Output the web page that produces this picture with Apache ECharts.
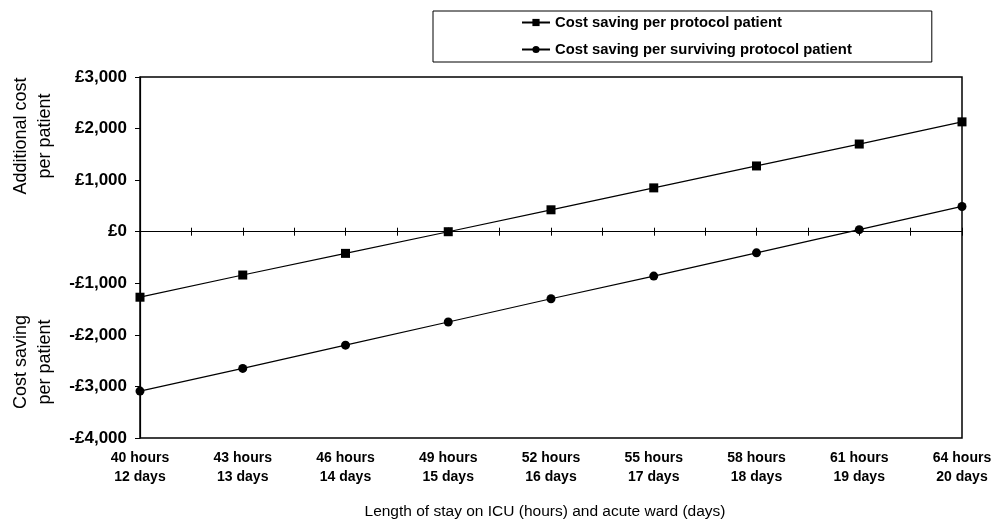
<!DOCTYPE html>
<html>
<head>
<meta charset="utf-8">
<script src="https://cdn.jsdelivr.net/npm/echarts@6/dist/echarts.min.js"></script>
<style>
html,body{margin:0;padding:0;background:#fff;}
#chart{width:1006px;height:521px;}
</style>
</head>
<body>
<div id="chart"></div>
<script>
const categories = ['40 hours\n12 days','43 hours\n13 days','46 hours\n14 days','49 hours\n15 days','52 hours\n16 days','55 hours\n17 days','58 hours\n18 days','61 hours\n19 days','64 hours\n20 days'];
const perProtocol = [-1270, -840, -420, 0, 425, 850, 1275, 1700, 2130];
const perSurviving = [-3090, -2650, -2200, -1750, -1300, -860, -410, 40, 490];
const seriesNames = ['Cost saving per protocol patient', 'Cost saving per surviving protocol patient'];
const yMin = -4000, yMax = 3000, yStep = 1000;
const xTitle = 'Length of stay on ICU (hours) and acute ward (days)';
const yTitleTop = 'Additional cost\nper patient';
const yTitleBottom = 'Cost saving\nper patient';

const FONT = 'Arial, "Liberation Sans", sans-serif';
function fmt(v){
  const s = Math.abs(v).toLocaleString('en-GB');
  return (v < 0 ? '-£' : '£') + s;
}

const chart = echarts.init(document.getElementById('chart'), null, {renderer:'canvas'});
const gridLeft = 140, gridRight = 1006-962, gridTop = 77, gridBottom = 521-438;
chart.setOption({
  animation: false,
  backgroundColor: '#fff',
  grid: {left: gridLeft, right: gridRight, top: gridTop, bottom: gridBottom, show: true,
         borderColor: '#000', borderWidth: 1.5, backgroundColor: 'transparent', outerBoundsMode: 'none', containLabel: false},
  legend: {
    orient: 'vertical', left: 433, top: 11,
    padding: [4, 80, 5, 88],
    itemGap: 12, itemWidth: 28, itemHeight: 9,
    borderColor: '#000', borderWidth: 1,
    textStyle: {fontFamily: FONT, fontWeight: 'bold', fontSize: 14.8, color: '#000'},
    data: seriesNames
  },
  xAxis: [
    {type: 'category', data: categories, boundaryGap: false, position: 'bottom',
     axisLine: {show: false, onZero: false}, axisTick: {show: false}, splitLine: {show: false},
     axisLabel: {fontFamily: FONT, fontWeight: 'bold', fontSize: 14, color: '#000', lineHeight: 19, margin: 11, interval: 0}},
    {type: 'value', min: 0, max: categories.length - 1, interval: 0.5, position: 'bottom',
     axisLine: {show: true, onZero: true, onZeroAxisIndex: 0, lineStyle: {color: '#000', width: 1.2}},
     axisTick: {show: true, length: 4, lineStyle: {color: '#000', width: 1}},
     axisLabel: {show: false}, splitLine: {show: false}},
    {type: 'value', min: 0, max: categories.length - 1, interval: 0.5, position: 'top',
     axisLine: {show: false, onZero: true, onZeroAxisIndex: 0},
     axisTick: {show: true, length: 4, lineStyle: {color: '#000', width: 1}},
     axisLabel: {show: false}, splitLine: {show: false}}
  ],
  yAxis: [{
    type: 'value', min: yMin, max: yMax, interval: yStep,
    axisLine: {show: true, onZero: false, lineStyle: {color: '#000', width: 1.2}},
    axisTick: {show: true, length: 5, lineStyle: {color: '#000'}},
    splitLine: {show: false},
    axisLabel: {fontFamily: FONT, fontWeight: 'bold', fontSize: 17, color: '#000', margin: 13, formatter: fmt}
  }],
  graphic: [
    {type: 'text', x: 33, y: 136, rotation: Math.PI/2,
     style: {text: yTitleTop, font: '18px ' + FONT, fill: '#000', align: 'center', verticalAlign: 'middle', lineHeight: 23.5}},
    {type: 'text', x: 33, y: 362, rotation: Math.PI/2,
     style: {text: yTitleBottom, font: '18px ' + FONT, fill: '#000', align: 'center', verticalAlign: 'middle', lineHeight: 23.5}},
    {type: 'text', x: 545, y: 512,
     style: {text: xTitle, font: '15.5px ' + FONT, fill: '#000', align: 'center', verticalAlign: 'middle'}}
  ],
  series: [
    {name: seriesNames[0], type: 'line', xAxisIndex: 0, yAxisIndex: 0, data: perProtocol,
     symbol: 'rect', symbolSize: 9, showAllSymbol: true,
     lineStyle: {color: '#000', width: 1.2}, itemStyle: {color: '#000'}},
    {name: seriesNames[1], type: 'line', xAxisIndex: 0, yAxisIndex: 0, data: perSurviving,
     symbol: 'circle', symbolSize: 9, showAllSymbol: true,
     lineStyle: {color: '#000', width: 1.2}, itemStyle: {color: '#000'}}
  ]
});
</script>
</body>
</html>
